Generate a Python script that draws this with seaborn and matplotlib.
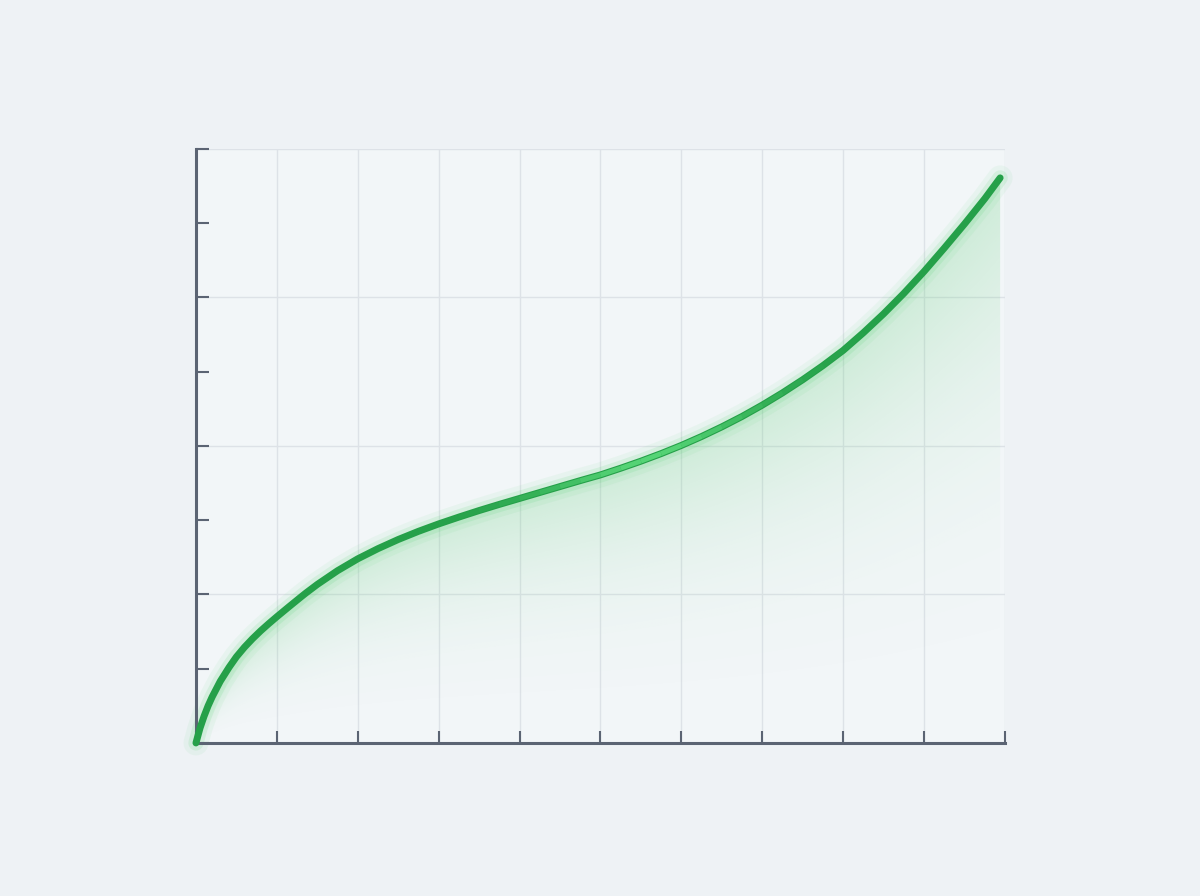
import numpy as np
import matplotlib
matplotlib.use("Agg")
import matplotlib.pyplot as plt
from matplotlib.collections import LineCollection
from matplotlib.ticker import MultipleLocator
import seaborn as sns

# values (x 0..10, y 0..8, no labels shown)
x_vals = [0.0, 0.05, 0.1, 0.15, 0.2, 0.3, 0.41, 0.5, 0.6, 0.7, 0.8, 0.9, 1.0,
          1.15, 1.3, 1.36, 1.5, 1.75, 2.0, 2.25, 2.5, 2.75, 3.0, 3.25, 3.5,
          3.75, 4.0, 4.25, 4.5, 4.75, 5.0, 5.25, 5.5, 5.75, 6.0, 6.25, 6.5,
          6.75, 7.0, 7.25, 7.5, 7.75, 8.0, 8.25, 8.5, 8.75, 9.0, 9.25, 9.5,
          9.75, 9.94]
y_vals = [0.0, 0.2, 0.36, 0.50, 0.62, 0.83, 1.02, 1.16, 1.29, 1.405, 1.51, 1.607, 1.70,
          1.835, 1.968, 2.02, 2.135, 2.32, 2.48, 2.617, 2.74, 2.85, 2.95, 3.042, 3.13,
          3.213, 3.293, 3.373, 3.453, 3.533, 3.61, 3.70, 3.795, 3.897, 4.007, 4.127, 4.257,
          4.397, 4.55, 4.715, 4.892, 5.082, 5.287, 5.525, 5.78, 6.055, 6.35, 6.665, 6.99,
          7.33, 7.61]
x_ticks = list(range(0, 11))
y_major = [0, 2, 4, 6, 8]

BG = "#eef2f5"
PANEL = "#f2f6f8"
AXIS = "#5b6473"
GRID = "#dde2e7"
GREEN = "#25a049"
GLOW = "#43cf62"

sns.set_theme(style="white")
plt.rcParams["font.family"] = ["DejaVu Sans"]

fig = plt.figure(figsize=(12, 8.96), dpi=100, facecolor=BG)
ax = fig.add_axes([0.1633, 0.1708, 0.6742, 0.663])
ax.set_facecolor(PANEL)

xs = np.array(x_vals)
ys = np.array(y_vals)

# gradient fill under the curve, strongest near the line
fill = ax.fill_between(xs, ys, 0, color="none", lw=0)
gx = np.linspace(0, 10, 400)
gy = np.linspace(0, 8, 300)
GX, GY = np.meshgrid(gx, gy)
top = np.interp(GX, xs, ys)
ratio = np.clip(GY / np.maximum(top, 1e-6), 0, 1)
rgba = np.zeros(GX.shape + (4,))
rgba[..., :3] = matplotlib.colors.to_rgb("#5ccc74")
rgba[..., 3] = 0.25 * ratio ** 2.6
img = ax.imshow(rgba, extent=[0, 10, 0, 8], origin="lower", aspect="auto",
                interpolation="bilinear", zorder=1)
img.set_clip_path(fill.get_paths()[0], transform=ax.transData)

# soft glow
ax.plot(xs, ys, color=GLOW, lw=18, alpha=0.06, solid_capstyle="round", zorder=3, clip_on=False)
ax.plot(xs, ys, color=GLOW, lw=11, alpha=0.12, solid_capstyle="round", zorder=3, clip_on=False)

sns.lineplot(x=x_vals, y=y_vals, ax=ax, color=GREEN, linewidth=5.0, sort=False,
             solid_capstyle="round", solid_joinstyle="round", zorder=5, clip_on=False)

# lighter highlight along the middle stretch of the line
pts = np.column_stack([xs, ys])
segs = np.stack([pts[:-1], pts[1:]], axis=1)
mid = (xs[:-1] + xs[1:]) / 2
alphas = 0.8 * np.exp(-((mid - 5.6) / 1.4) ** 2)
cols = [(*matplotlib.colors.to_rgb("#62e282"), a) for a in alphas]
lc = LineCollection(segs, colors=cols, linewidths=3.4, capstyle="butt",
                    joinstyle="round", zorder=6)
ax.add_collection(lc)

ax.set_xlim(0, 10)
ax.set_ylim(0, 8)
ax.set_xticks(x_ticks)
ax.set_yticks(y_major)
ax.yaxis.set_minor_locator(MultipleLocator(1))
ax.tick_params(which="both", direction="in", length=9, width=1.5, color=AXIS,
               labelleft=False, labelbottom=False, left=True, bottom=True)
ax.grid(True, which="major", color=GRID, lw=1.0)
ax.set_axisbelow(True)

sns.despine(ax=ax, top=True, right=True)
for side in ["left", "bottom"]:
    ax.spines[side].set_color(AXIS)
    ax.spines[side].set_linewidth(2.2)
    ax.spines[side].set_zorder(4)

fig.savefig("out.png", dpi=100, facecolor=BG)
